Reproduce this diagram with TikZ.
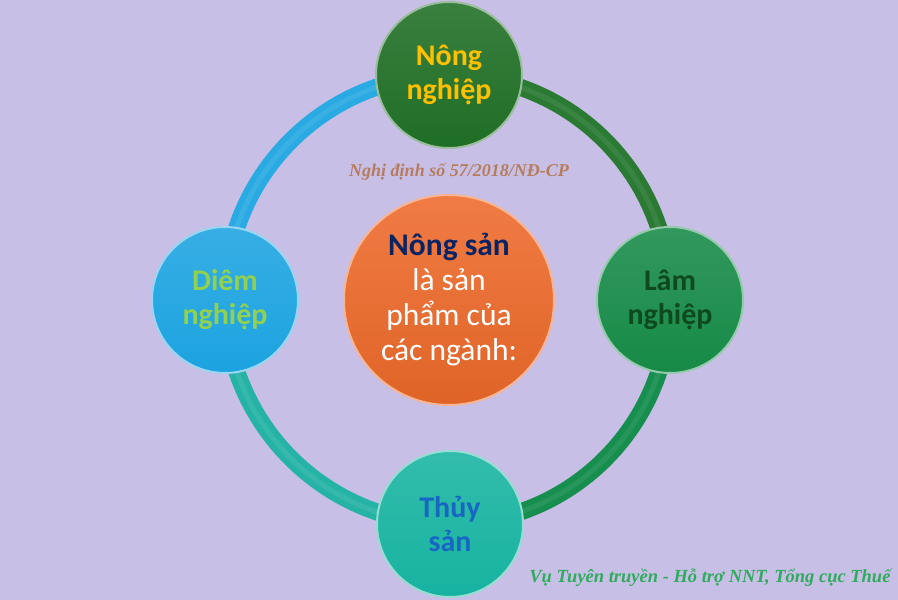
\documentclass[tikz,border=0pt]{standalone}
\usepackage{fontspec}
\setmainfont{Carlito}
\newfontfamily\serifit{Liberation Serif}
\usepackage{tikz}
\usetikzlibrary{positioning,backgrounds}
\definecolor{bg}{HTML}{C8BFE6}
\definecolor{agri}{HTML}{1F6E25}
\definecolor{forest}{HTML}{168A47}
\definecolor{fish}{HTML}{17B3A0}
\definecolor{salt}{HTML}{1CA3E0}
\definecolor{core}{HTML}{EE6A2A}
\definecolor{gold}{HTML}{FFC000}
\definecolor{lime}{HTML}{92D050}
\definecolor{pine}{HTML}{0E4A1E}
\definecolor{sea}{HTML}{1866C4}
\definecolor{navy}{HTML}{0A2463}
\definecolor{decree}{HTML}{B57C5E}
\definecolor{credit}{HTML}{2EAB5C}
\definecolor{arcNE}{HTML}{2A7A33}
\definecolor{arcSE}{HTML}{168E4E}
\definecolor{arcSW}{HTML}{25B3A6}
\definecolor{arcNW}{HTML}{2AAAE2}
\tikzset{
  ball/.style={circle, minimum size=146pt, inner sep=0pt, align=center,
    font=\fontsize{30}{34}\selectfont\bfseries, line width=2pt,
    top color=#1!88!white, bottom color=#1, draw=#1!45!white},
  hub/.style={circle, minimum size=210pt, inner sep=0pt, align=center,
    font=\fontsize{31.5}{35}\selectfont, line width=2pt,
    top color=core!88!white, bottom color=core!94!black, draw=core!50!white},
  ring/.style={line width=17pt, draw=#1},
  shine/.style={line width=5pt, draw=white, opacity=0.08},
  note/.style={font=\serifit\bfseries\itshape\fontsize{18}{20}\selectfont},
}
\begin{document}
\begin{tikzpicture}[x=1pt,y=1pt]
\useasboundingbox (0,0) rectangle (898,600);
% sector nodes
\node[ball=agri, text=gold] (nong) at (449,525) {Nông\\nghiệp};
\node[ball=forest, text=pine] (lam) at (670,300) {Lâm\\nghiệp};
\node[ball=fish, text=sea] (thuy) at (450,76) {Thủy\\sản};
\node[ball=salt, text=lime] (diem) at (225,300) {Diêm\\nghiệp};
\node[hub, text=white] (core) at (449,300) {\textbf{\textcolor{navy}{Nông sản}}\\là sản\\phẩm của\\các ngành:};
% ring segments
\begin{scope}[on background layer]
\fill[bg] (0,0) rectangle (898,600);
\draw[ring=arcNW] (nong.center) to[bend right=45] (diem.center);
\draw[ring=arcSW] (diem.center) to[bend right=45] (thuy.center);
\draw[ring=arcSE] (thuy.center) to[bend right=45] (lam.center);
\draw[ring=arcNE] (lam.center) to[bend right=45] (nong.center);
\foreach \a/\b in {nong/diem,diem/thuy,thuy/lam,lam/nong}
  \draw[shine] (\a.center) to[bend right=45] (\b.center);
\end{scope}
% texts
\node[note, text=decree] (law) at (459,428) {Nghị định số 57/2018/NĐ-CP};
\node[note, text=credit, anchor=east, font=\serifit\bfseries\itshape\fontsize{18.5}{20}\selectfont] (src) at (894,22) {Vụ Tuyên truyền - Hỗ trợ NNT, Tổng cục Thuế};
\end{tikzpicture}
\end{document}
